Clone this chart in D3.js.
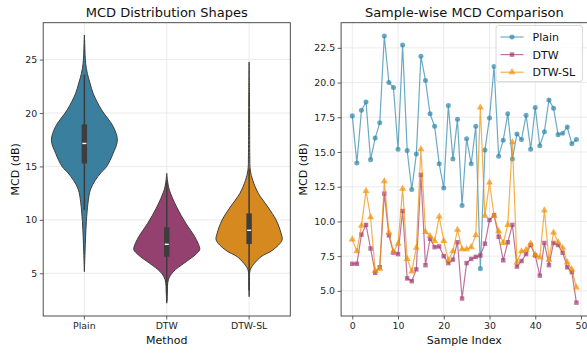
<!DOCTYPE html>
<html>
<head>
<meta charset="utf-8">
<script src="https://cdn.jsdelivr.net/npm/d3@7"></script>
<style>
  html, body { margin: 0; padding: 0; background: #fff; }
  svg { display: block; font-family: 'DejaVu Sans', sans-serif; }
</style>
</head>
<body>
<svg id="chart" width="587" height="353"></svg>
<script>
// ---- data ----
const methods = ['Plain', 'DTW', 'DTW-SL'];
const fillColors = ['#3b7f9e', '#944170', '#d5891f'];
const lineColors = ['#2E86AB', '#A23B72', '#F18F01'];

// violin outlines: [MCD value, relative half width]
const plainDensity = [[27.3, 0], [26.5, 0.01], [25.5, 0.02], [24.6, 0.04], [23.7, 0.09], [22.8, 0.17], [21.8, 0.27],
  [20.3, 0.52], [18.7, 0.88], [17.45, 1.0], [16.2, 0.87], [14.96, 0.67], [14.4, 0.5], [13.7, 0.33], [12.8, 0.18],
  [11.6, 0.11], [9.85, 0.06], [8.4, 0.036], [6.9, 0.018], [5.15, 0]];
const dtwDensity = [[14.35, 0], [13.5, 0.03], [12.78, 0.08], [11.2, 0.3], [9.67, 0.58], [8.42, 0.85], [7.49, 0.99],
  [7.2, 1.0], [6.71, 0.86], [5.93, 0.52], [5.15, 0.2], [4.4, 0.05], [3.13, 0.015], [2.2, 0]];
const dtwslDensity = [[24.78, 0], [22, 0.01], [19, 0.015], [16, 0.02], [14.65, 0.035], [13.7, 0.11], [12.48, 0.28],
  [11.2, 0.57], [9.98, 0.82], [8.74, 0.97], [8.11, 1.0], [7.18, 0.72], [6.55, 0.36], [5.93, 0.16], [5.3, 0.03],
  [4, 0.01], [2.8, 0]];

// inner box: [whisker low, q1, median, q3, whisker high]
const plainBox = [10.9, 15.28, 17.15, 18.93, 23.6];
const dtwBox = [2.4, 6.55, 7.71, 9.3, 13.6];
const dtwslBox = [3.4, 7.74, 9.02, 10.6, 14.8];

const plainMcd = [17.6, 14.2, 18.0, 18.6, 14.45, 16.0, 17.1, 23.35, 20.0, 19.65,
  15.2, 22.7, 15.1, 12.3, 14.85, 21.9, 20.15, 17.75, 16.85, 14.15,
  12.4, 18.35, 14.5, 17.35, 11.15, 15.95, 14.15, 16.85, 6.6, 15.15,
  17.45, 21.15, 14.7, 15.85, 17.75, 14.5, 16.3, 15.9, 17.65, 15.2,
  18.2, 15.45, 16.45, 18.75, 18.15, 16.25, 16.35, 16.8, 15.6, 15.9];
const dtwMcd = [6.95, 6.95, 9.05, 9.75, 8.05, 6.3, 6.7, 12.0, 9.0, 7.75,
  7.65, 10.75, 5.9, 5.7, 6.55, 13.35, 6.85, 8.75, 8.15, 8.2,
  7.5, 7.0, 7.25, 8.5, 4.45, 7.0, 7.3, 7.45, 7.55, 8.4,
  10.1, 10.45, 8.9, 7.2, 8.5, 9.75, 6.75, 7.15, 7.65, 8.3,
  7.55, 6.1, 8.45, 6.85, 8.45, 8.3, 7.75, 6.7, 6.35, 4.15];
const dtwslMcd = [8.7, 7.85, 9.7, 12.2, 10.3, 6.45, 6.6, 12.9, 9.2, 7.8,
  8.4, 12.35, 7.3, 6.4, 8.1, 15.2, 9.25, 8.95, 8.6, 10.35,
  8.6, 7.2, 7.85, 9.4, 8.0, 8.0, 8.15, 9.0, 18.2, 10.4,
  12.8, 10.4, 9.3, 8.45, 9.75, 15.7, 7.05, 7.85, 7.95, 8.4,
  7.6, 7.4, 10.8, 7.25, 9.2, 8.5, 8.1, 7.05, 6.55, 5.25];

const leftYTicks = [5, 10, 15, 20, 25];
const rightYTicks = [5, 7.5, 10, 12.5, 15, 17.5, 20, 22.5];
const rightXTicks = [0, 10, 20, 30, 40, 50];

const densities = [plainDensity, dtwDensity, dtwslDensity];
const boxes = [plainBox, dtwBox, dtwslBox];
const series = [plainMcd, dtwMcd, dtwslMcd];

// ---- layout ----
const svg = d3.select('#chart');
const plotTop = 22.7, plotBottom = 316;
const frame = '#3a3a3a';
const gridColor = '#e6e6e6';

function styleAxis(g) {
  g.select('.domain').remove();
  g.selectAll('.tick line').attr('stroke', frame).attr('stroke-width', 0.8);
  g.selectAll('.tick text').attr('fill', '#222').attr('font-size', '9.4px')
    .attr('font-family', "'DejaVu Sans', sans-serif");
}

// ===== left panel: violins =====
const L = { left: 43.2, right: 290.3 };
const xBand = d3.scaleBand().domain(methods).range([L.left, L.right]).paddingInner(0).paddingOuter(0);
const yLeft = d3.scaleLinear().domain([1.0, 28.45]).range([plotBottom, plotTop]);

const gl = svg.append('g');
gl.selectAll('line.hgrid').data(leftYTicks).join('line')
  .attr('x1', L.left).attr('x2', L.right)
  .attr('y1', d => yLeft(d)).attr('y2', d => yLeft(d))
  .attr('stroke', gridColor).attr('stroke-width', 0.8);
gl.selectAll('line.vgrid').data(methods).join('line')
  .attr('x1', d => xBand(d) + xBand.bandwidth() / 2).attr('x2', d => xBand(d) + xBand.bandwidth() / 2)
  .attr('y1', plotTop).attr('y2', plotBottom)
  .attr('stroke', gridColor).attr('stroke-width', 0.8);

const halfMax = xBand.bandwidth() * 0.4;
methods.forEach((m, i) => {
  const cx = xBand(m) + xBand.bandwidth() / 2;
  const pts = densities[i].slice().sort((a, b) => a[0] - b[0]);
  const area = d3.area()
    .y(d => yLeft(d[0]))
    .x0(d => cx - d[1] * halfMax)
    .x1(d => cx + d[1] * halfMax)
    .curve(d3.curveCatmullRom);
  gl.append('path').attr('d', area(pts))
    .attr('fill', fillColors[i]).attr('stroke', '#3d3d3d').attr('stroke-width', 1);

  const b = boxes[i];
  gl.append('line').attr('x1', cx).attr('x2', cx)
    .attr('y1', yLeft(b[0])).attr('y2', yLeft(b[4]))
    .attr('stroke', '#3d3d3d').attr('stroke-width', 1.5);
  gl.append('rect').attr('x', cx - 2.7).attr('width', 5.4)
    .attr('y', yLeft(b[3])).attr('height', yLeft(b[1]) - yLeft(b[3]))
    .attr('fill', '#3d3d3d');
  gl.append('rect').attr('x', cx - 2).attr('width', 4)
    .attr('y', yLeft(b[2]) - 0.7).attr('height', 1.4).attr('fill', '#fff');
});

const glx = svg.append('g').attr('transform', `translate(0,${plotBottom})`)
  .call(d3.axisBottom(xBand).tickSize(3.5).tickPadding(3));
styleAxis(glx);
const gly = svg.append('g').attr('transform', `translate(${L.left},0)`)
  .call(d3.axisLeft(yLeft).tickValues(leftYTicks).tickSize(3.5).tickPadding(2.5));
styleAxis(gly);

svg.append('rect').attr('x', L.left).attr('y', plotTop).attr('width', L.right - L.left).attr('height', plotBottom - plotTop)
  .attr('fill', 'none').attr('stroke', frame).attr('stroke-width', 0.9);

svg.append('text').attr('x', (L.left + L.right) / 2).attr('y', 17).attr('text-anchor', 'middle')
  .attr('font-size', '13px').attr('fill', '#111').text('MCD Distribution Shapes');
svg.append('text').attr('x', (L.left + L.right) / 2).attr('y', 344).attr('text-anchor', 'middle')
  .attr('font-size', '11px').attr('fill', '#111').text('Method');
svg.append('text').attr('transform', `translate(19,${(plotTop + plotBottom) / 2}) rotate(-90)`).attr('text-anchor', 'middle')
  .attr('font-size', '11px').attr('fill', '#111').text('MCD (dB)');

// ===== right panel: sample-wise lines =====
const R = { left: 341.1, right: 587.6 };
const n = plainMcd.length;
const xLin = d3.scaleLinear().domain([-0.05 * (n - 1), (n - 1) * 1.05]).range([R.left, R.right]);
const allVals = series.flat();
const [vmin, vmax] = d3.extent(allVals);
const pad = (vmax - vmin) * 0.05;
const yRight = d3.scaleLinear().domain([vmin - pad, vmax + pad]).range([plotBottom, plotTop]);

const gr = svg.append('g');
gr.selectAll('line.hgrid').data(rightYTicks).join('line')
  .attr('x1', R.left).attr('x2', R.right)
  .attr('y1', d => yRight(d)).attr('y2', d => yRight(d))
  .attr('stroke', gridColor).attr('stroke-width', 0.8);
gr.selectAll('line.vgrid').data(rightXTicks).join('line')
  .attr('x1', d => xLin(d)).attr('x2', d => xLin(d))
  .attr('y1', plotTop).attr('y2', plotBottom)
  .attr('stroke', gridColor).attr('stroke-width', 0.8);

const line = d3.line().x((d, i) => xLin(i)).y(d => yRight(d));
const markerShapes = [d3.symbolCircle, d3.symbolSquare, d3.symbolTriangle];
const markerSizes = [20, 20, 22];

function drawMarker(g, i, x, y) {
  g.append('path')
    .attr('d', d3.symbol().type(markerShapes[i]).size(markerSizes[i])())
    .attr('transform', `translate(${x},${y})`)
    .attr('fill', lineColors[i]).attr('fill-opacity', 0.7);
}

series.forEach((vals, i) => {
  const sg = gr.append('g');
  sg.append('path').attr('d', line(vals))
    .attr('fill', 'none').attr('stroke', lineColors[i]).attr('stroke-opacity', 0.7).attr('stroke-width', 1.2);
  vals.forEach((v, j) => drawMarker(sg, i, xLin(j), yRight(v)));
});

const grx = svg.append('g').attr('transform', `translate(0,${plotBottom})`)
  .call(d3.axisBottom(xLin).tickValues(rightXTicks).tickSize(3.5).tickPadding(3));
styleAxis(grx);
const gry = svg.append('g').attr('transform', `translate(${R.left},0)`)
  .call(d3.axisLeft(yRight).tickValues(rightYTicks).tickFormat(d3.format('.1f')).tickSize(3.5).tickPadding(2.5));
styleAxis(gry);

svg.append('rect').attr('x', R.left).attr('y', plotTop).attr('width', R.right - R.left).attr('height', plotBottom - plotTop)
  .attr('fill', 'none').attr('stroke', frame).attr('stroke-width', 0.9);

svg.append('text').attr('x', (R.left + R.right) / 2).attr('y', 17).attr('text-anchor', 'middle')
  .attr('font-size', '13px').attr('fill', '#111').text('Sample-wise MCD Comparison');
svg.append('text').attr('x', (R.left + R.right) / 2).attr('y', 344).attr('text-anchor', 'middle')
  .attr('font-size', '11px').attr('fill', '#111').text('Sample Index');
svg.append('text').attr('transform', `translate(307,${(plotTop + plotBottom) / 2}) rotate(-90)`).attr('text-anchor', 'middle')
  .attr('font-size', '11px').attr('fill', '#111').text('MCD (dB)');

// legend
const lg = svg.append('g').attr('transform', 'translate(496,25.5)');
lg.append('rect').attr('width', 86.5).attr('height', 56).attr('rx', 2.5)
  .attr('fill', '#fff').attr('fill-opacity', 0.8).attr('stroke', '#d0d0d0').attr('stroke-width', 0.8);
methods.forEach((m, i) => {
  const yy = 11.5 + i * 17.6;
  lg.append('line').attr('x1', 4.5).attr('x2', 27.5).attr('y1', yy).attr('y2', yy)
    .attr('stroke', lineColors[i]).attr('stroke-opacity', 0.7).attr('stroke-width', 1.2);
  drawMarker(lg, i, 16, yy);
  lg.append('text').attr('x', 36.5).attr('y', yy + 4).attr('font-size', '11px').attr('fill', '#111').text(m);
});
</script>
</body>
</html>
